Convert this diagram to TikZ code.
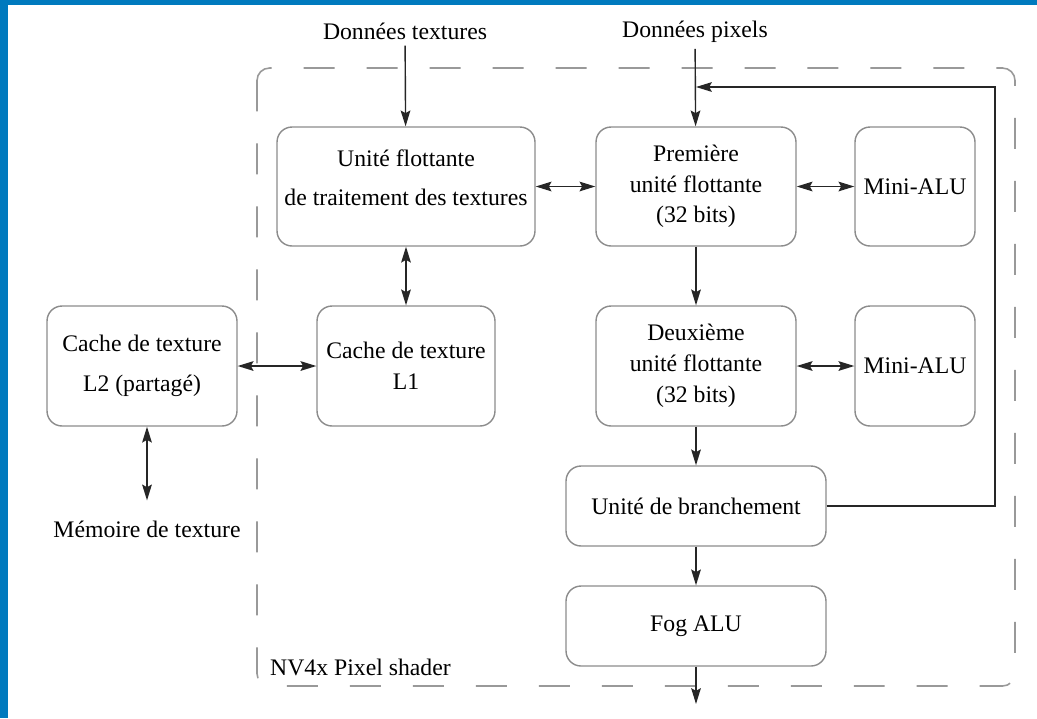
\documentclass[tikz,border=0pt]{standalone}
\usepackage{fontspec}
\setmainfont{Liberation Serif}
\usetikzlibrary{arrows.meta}

\definecolor{frameblue}{RGB}{0,122,190}

\begin{document}
\begin{tikzpicture}[
		x=0.02cm, y=-0.02cm,
		>={Stealth[length=9pt,width=5.5pt,inset=1.5pt]},
		every node/.style={font=\fontsize{13.5}{17.5}\selectfont},
		unit/.style={draw=black!45, line width=0.8pt, rounded corners=0.3cm, align=center, inner sep=2pt},
		wire/.style={black!85, line width=0.8pt},
		shader frame/.style={draw=black!40, line width=0.9pt, dash pattern=on 0.62cm off 0.64cm, rounded corners=0.25cm}
		]
		
		% ---------------------------------------------------------
		% Page and blue frame
		% ---------------------------------------------------------
		\fill[white] (0,0) rectangle (1037,718);
		\fill[frameblue] (0,0) rectangle (1037,5);
		\fill[frameblue] (0,0) rectangle (8,718);
		
		% dashed outline of the pixel shader
		\draw[shader frame] (257,68) rectangle (1015,686);
		\node[anchor=west] (shaderlbl) at (264,667) {NV4x Pixel shader};
		
		% ---------------------------------------------------------
		% Inputs
		% ---------------------------------------------------------
		\node (intex) at (405,31) {Données textures};
		\node (inpix) at (695,32) {Données pixels};
		
		% ---------------------------------------------------------
		% Units
		% ---------------------------------------------------------
		\node[unit, minimum width=5.16cm, minimum height=2.38cm] (texunit) at (406,186.5)
			{Unité flottante\\[5pt]de traitement des textures\\[-12.5pt]\strut};
		\node[unit, minimum width=4cm, minimum height=2.38cm] (fpuone) at (696,186.5)
			{Première\\unité flottante\\(32 bits)};
		\node[unit, minimum width=2.4cm, minimum height=2.38cm] (minione) at (915,186.5) {Mini-ALU};
		
		\node[unit, minimum width=3.8cm, minimum height=2.4cm] (cachetwo) at (142,366)
			{Cache de texture\\[5pt]L2 (partagé)};
		\node[unit, minimum width=3.56cm, minimum height=2.4cm] (cacheone) at (406,366)
			{Cache de texture\\L1};
		\node[unit, minimum width=4cm, minimum height=2.4cm] (fputwo) at (696,366)
			{Deuxième\\unité flottante\\(32 bits)};
		\node[unit, minimum width=2.4cm, minimum height=2.4cm] (minitwo) at (915,366) {Mini-ALU};
		
		\node (memtex) at (147,529) {Mémoire de texture};
		
		\node[unit, minimum width=5.2cm, minimum height=1.6cm] (branch) at (696,506) {Unité de branchement};
		\node[unit, minimum width=5.2cm, minimum height=1.6cm] (fog) at (696,626) {Fog ALU};
		
		\coordinate (join) at (696,87);
		\coordinate (loop) at (995,87);
		\coordinate (out) at (696,704);
		
		% ---------------------------------------------------------
		% Connections
		% ---------------------------------------------------------
		\draw[wire, ->] (intex) -- (texunit);
		\draw[wire, ->] (inpix) -- (fpuone);
		\draw[wire, <->] (texunit) -- (fpuone);
		\draw[wire, <->] (fpuone) -- (minione);
		\draw[wire, <->] (texunit) -- (cacheone);
		\draw[wire, <->] (cachetwo) -- (cacheone);
		\draw[wire, <->] (fputwo) -- (minitwo);
		\draw[wire, <->, shorten >=8pt] (cachetwo.south -| memtex) -- (memtex);
		\draw[wire, ->] (fpuone) -- (fputwo);
		\draw[wire, ->] (fputwo) -- (branch);
		\draw[wire, ->] (branch) -- (fog);
		\draw[wire, ->] (fog) -- (out);
		
		% loop back from the branch unit
		\draw[wire, ->] (branch.east) -| (loop) -- (join);
		
	\end{tikzpicture}
\end{document}
